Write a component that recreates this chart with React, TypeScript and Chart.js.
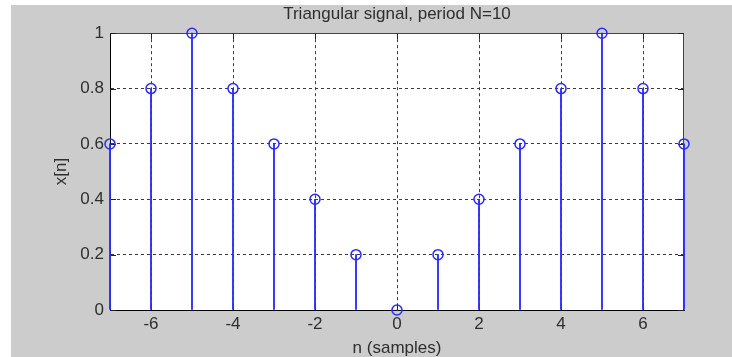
import { useEffect, useRef } from "react";
import { Chart, registerables } from "chart.js";

Chart.register(...registerables);

const nValues = [-7, -6, -5, -4, -3, -2, -1, 0, 1, 2, 3, 4, 5, 6, 7];
const signalValues = [0.6, 0.8, 1, 0.8, 0.6, 0.4, 0.2, 0, 0.2, 0.4, 0.6, 0.8, 1, 0.8, 0.6];
const xTicks = [-6, -4, -2, 0, 2, 4, 6];
const xTickLabels = ["-6", "-4", "-2", "0", "2", "4", "6"];
const yTicks = [0, 0.2, 0.4, 0.6, 0.8, 1];
const yTickLabels = ["0", "0.2", "0.4", "0.6", "0.8", "1"];
const titleText = "Triangular signal, period N=10";
const xAxisLabel = "n (samples)";
const yAxisLabel = "x[n]";

const FONT = "'Liberation Sans', Arial, Helvetica, sans-serif";
const TEXT = "#2e2e2e";
const BLUE = "#2b2bff";
const GRID = "#3a3a3a";

const bgPlugin = {
  id: "matlabBg",
  beforeDraw(chart: any) {
    const { ctx, chartArea } = chart;
    const { left, top, right, bottom } = chartArea;
    ctx.save();
    ctx.fillStyle = "#ffffff";
    ctx.fillRect(0, 0, chart.width, chart.height);
    ctx.fillStyle = "#cccccc";
    ctx.fillRect(11, 5, chart.width - 11, chart.height - 5);
    ctx.fillStyle = "#ffffff";
    ctx.fillRect(left, top, right - left, bottom - top);
    ctx.restore();
  },
  beforeDatasetsDraw(chart: any) {
    const { ctx, chartArea, scales } = chart;
    const { left, top, right, bottom } = chartArea;
    const tl = 6;
    ctx.save();
    ctx.strokeStyle = "#444444";
    ctx.lineWidth = 1;
    ctx.beginPath();
    ctx.moveTo(left, Math.round(top) + 0.5);
    ctx.lineTo(right, Math.round(top) + 0.5);
    ctx.moveTo(Math.round(right) - 0.5, top);
    ctx.lineTo(Math.round(right) - 0.5, bottom);
    ctx.stroke();
    ctx.strokeStyle = "#222222";
    ctx.beginPath();
    yTicks.forEach((v) => {
      const y = Math.round(scales.y.getPixelForValue(v)) + 0.5;
      ctx.moveTo(left, y);
      ctx.lineTo(left + tl, y);
      ctx.moveTo(right, y);
      ctx.lineTo(right - tl, y);
    });
    xTicks.forEach((v) => {
      const x = Math.round(scales.x.getPixelForValue(v)) + 0.5;
      ctx.moveTo(x, bottom);
      ctx.lineTo(x, bottom - tl);
      ctx.moveTo(x, top);
      ctx.lineTo(x, top + tl);
    });
    ctx.stroke();
    ctx.restore();
  },
};

export default function App() {
  const ref = useRef<HTMLCanvasElement>(null);

  useEffect(() => {
    const points = nValues.map((n, i) => ({ x: n, y: signalValues[i] }));
    const chart = new Chart(ref.current as HTMLCanvasElement, {
      type: "scatter",
      data: {
        datasets: [
          {
            type: "scatter",
            data: points,
            pointStyle: "circle",
            pointRadius: 5,
            pointHoverRadius: 5,
            pointBorderWidth: 1.5,
            pointBorderColor: BLUE,
            pointBackgroundColor: "rgba(0,0,0,0)",
            showLine: false,
            clip: false,
          } as any,
          {
            type: "bar",
            data: points,
            backgroundColor: BLUE,
            borderWidth: 0,
            barThickness: 1.2,
            clip: false,
          } as any,
        ],
      },
      options: {
        responsive: false,
        animation: false,
        devicePixelRatio: 1,
        layout: { padding: { left: 0, right: 48, top: 0, bottom: 0 } },
        plugins: {
          legend: { display: false },
          tooltip: { enabled: false },
          title: {
            display: true,
            text: titleText,
            fullSize: false,
            color: TEXT,
            font: { family: FONT, size: 17, weight: "normal", lineHeight: 1.2 },
            padding: { top: 3.8, bottom: 9 },
          },
        },
        scales: {
          x: {
            type: "linear",
            min: -7,
            max: 7,
            offset: false,
            afterBuildTicks: (s: any) => {
              s.ticks = xTicks.map((v) => ({ value: v }));
            },
            afterFit: (s: any) => {
              s.height = 47;
            },
            ticks: {
              autoSkip: false,
              maxRotation: 0,
              padding: 4,
              color: TEXT,
              font: { family: FONT, size: 17 },
              callback: (v: any) => xTickLabels[xTicks.indexOf(Number(v))],
            },
            grid: { color: GRID, lineWidth: 1, drawTicks: false, offset: false },
            border: { display: true, color: "#000000", width: 1, dash: [3, 3] },
            title: {
              display: true,
              text: xAxisLabel,
              color: TEXT,
              font: { family: FONT, size: 17, lineHeight: 1 },
              padding: { top: 0, bottom: 0.5 },
            },
          },
          y: {
            type: "linear",
            min: 0,
            max: 1,
            afterBuildTicks: (s: any) => {
              s.ticks = yTicks.map((v) => ({ value: v }));
            },
            afterFit: (s: any) => {
              s.width = 110;
            },
            ticks: {
              autoSkip: false,
              padding: 6,
              color: TEXT,
              font: { family: FONT, size: 17 },
              callback: (v: any) => yTickLabels[yTicks.indexOf(Number(v))],
            },
            grid: { color: GRID, lineWidth: 1, drawTicks: false },
            border: { display: true, color: "#000000", width: 1, dash: [3, 3] },
            title: {
              display: true,
              text: yAxisLabel,
              color: TEXT,
              font: { family: FONT, size: 17, lineHeight: 1 },
              padding: { top: 52.5, bottom: 0 },
            },
          },
        },
      } as any,
      plugins: [bgPlugin],
    });
    return () => chart.destroy();
  }, []);

  return (
    <div style={{ position: "fixed", left: 0, top: 0, width: 732, height: 357, background: "#fff" }}>
      <canvas ref={ref} width={732} height={357} style={{ display: "block", width: 732, height: 357 }} />
    </div>
  );
}
